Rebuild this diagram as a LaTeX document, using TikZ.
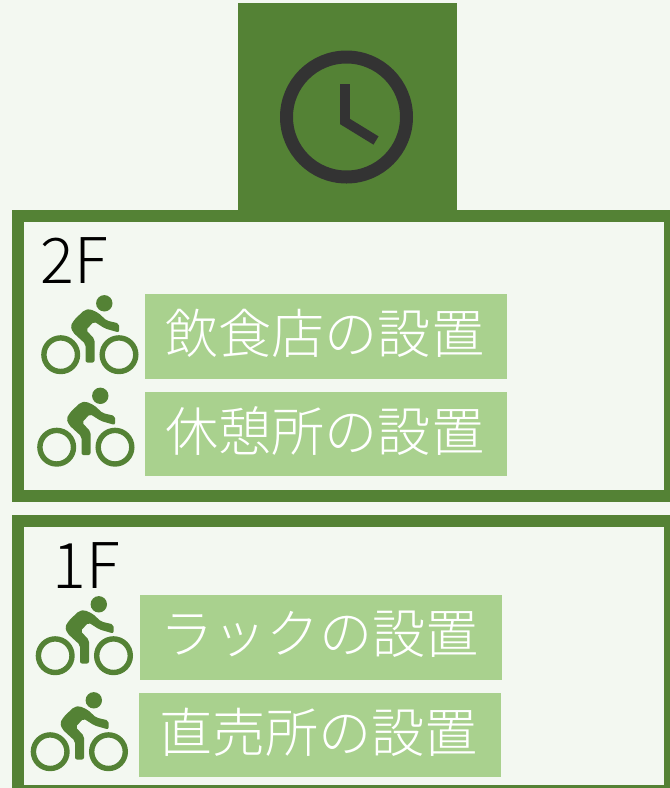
\documentclass[tikz,border=0pt]{standalone}
\usepackage{fontspec}
\newfontfamily\jpf{Noto Sans CJK JP Light}
\definecolor{bg}{HTML}{F3F8F1}
\definecolor{gr}{HTML}{548235}
\definecolor{lg}{HTML}{A9D18E}
\definecolor{dk}{HTML}{333333}
\tikzset{
  x=1pt,y=-1pt,
  frame/.style={draw=gr,line width=12pt,fill=none},
  label box/.style={fill=lg,inner sep=0pt,anchor=center},
  label text/.style={text=white,inner sep=0pt,font=\jpf\fontsize{53.1}{53.1}\selectfont,anchor=center},
  floor label/.style={text=black,inner sep=0pt,font=\jpf\fontsize{63}{63}\selectfont,anchor=center},
  bike/.pic={
    \fill[gr] (104.3,303.3) circle (8.2);
    \draw[gr,line width=5.4pt] (60.7,354.7) circle (16.8);
    \draw[gr,line width=5.4pt] (119,354.7) circle (16.8);
    \fill[gr,rounded corners=2pt] (90,309) -- (98.5,313) -- (106.5,320.5) -- (119,323.5) -- (119,332.5) -- (105,328.5) -- (94,321.5) -- (86,330) -- (94.5,339) -- (94.5,362.5) -- (85.5,362.5) -- (85.5,344) -- (73,332.5) -- (70.5,326) -- (74.5,319.5) -- (84.5,310) -- cycle;
  }
}
\begin{document}
\begin{tikzpicture}
\useasboundingbox (0,0) rectangle (670,788);
\fill[bg] (0,0) rectangle (670,788);
\fill[gr] (238,2.5) rectangle (457,212);
\node[circle,draw=dk,line width=13pt,minimum size=120pt,inner sep=0pt] (clock) at (346.5,117) {};
\draw[dk,line width=9.7pt] (345,84) -- (345,121.5) -- (376,140.5);
\draw[frame] (18,216) rectangle (669.5,496);
\draw[frame] (18,521) rectangle (669.5,791);
\node[floor label] (f2) at (74.5,261) {2F};
\node[floor label] (f1) at (86,566) {1F};
\node[label box,minimum width=362pt,minimum height=85pt] (a) at (326,336.5) {};
\node[label box,minimum width=362pt,minimum height=84pt] (b) at (326,434) {};
\node[label box,minimum width=362pt,minimum height=85pt] (c) at (321,637.5) {};
\node[label box,minimum width=362pt,minimum height=84pt] (d) at (320,735) {};
\node[label text] (ta) at (324.8,333.5) {飲食店の設置};
\node[label text] (tb) at (324.8,431) {休憩所の設置};
\node[label text] (tc) at (319.8,634.5) {ラックの設置};
\node[label text] (td) at (318.8,732) {直売所の設置};
\pic at (0,0) {bike};
\pic at (-4,92.5) {bike};
\pic at (-5.5,301) {bike};
\pic at (-10.5,397) {bike};
\end{tikzpicture}
\end{document}
